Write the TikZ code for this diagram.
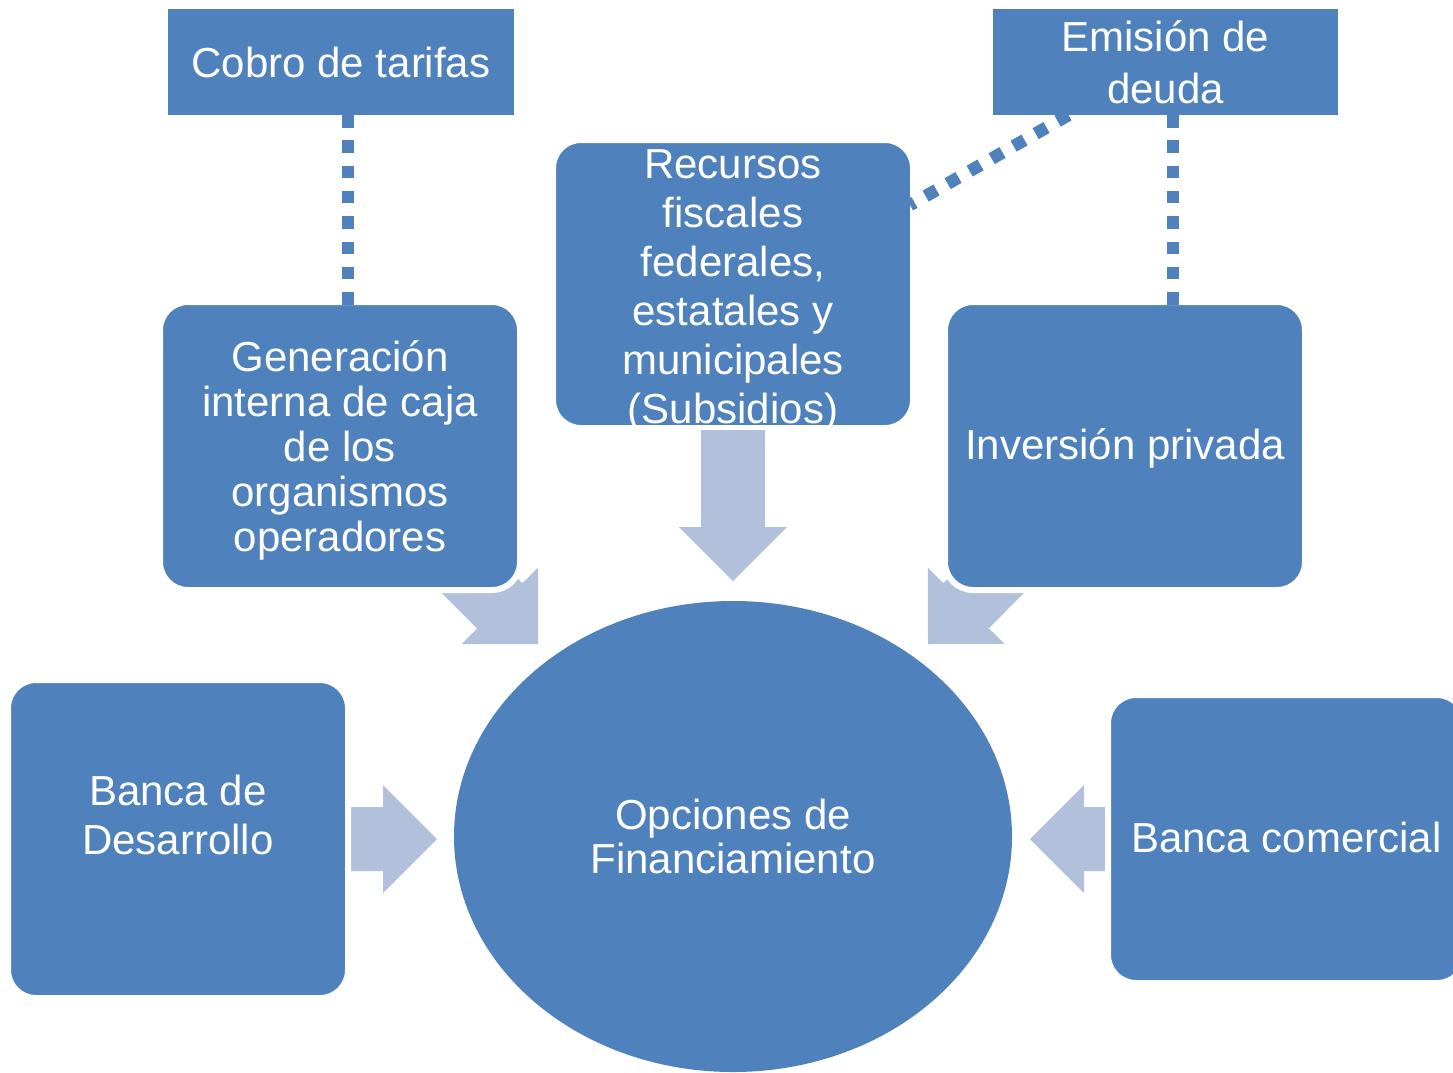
\documentclass[tikz,border=0pt]{standalone}
\usepackage{fontspec}
\setmainfont{Liberation Sans}
\usetikzlibrary{shapes.geometric,calc}
\definecolor{boxblue}{HTML}{4F81BD}
\definecolor{arrowblue}{RGB}{178,193,219}
\pgfdeclarelayer{bg}
\pgfsetlayers{bg,main}
\begin{document}
\begin{tikzpicture}[x=1pt,y=-1pt,
  txt/.style={text=white, font=\fontsize{42}{49}\selectfont, align=center},
  rbox/.style={txt, fill=boxblue, draw=white, line width=6pt, rounded corners=28pt, inner sep=0pt, outer sep=-3pt},
  sbox/.style={txt, fill=boxblue, inner sep=0pt, outer sep=0pt},
  dots/.style={draw=boxblue, line width=12.5pt, dash pattern=on 12.5pt off 12.8pt},
  blockarrow/.style={to path={let \p1=(\tikztostart), \p2=(\tikztotarget),
      \n1={atan2(\y2-\y1,\x2-\x1)}, \n2={veclen(\x2-\x1,\y2-\y1)} in
      ([shift={(\p1)},rotate=\n1]0,32) -- ([shift={(\p1)},rotate=\n1]{\n2-54},32)
      -- ([shift={(\p1)},rotate=\n1]{\n2-54},54) -- ([shift={(\p1)},rotate=\n1]\n2,0)
      -- ([shift={(\p1)},rotate=\n1]{\n2-54},-54) -- ([shift={(\p1)},rotate=\n1]{\n2-54},-32)
      -- ([shift={(\p1)},rotate=\n1]0,-32) -- cycle}},
  arrowfill/.style={fill=arrowblue, draw=none}
]
\useasboundingbox (0,0) rectangle (1453,1072);

% boxes
\node[sbox, minimum width=346, minimum height=106] (cobro) at (341,62) {Cobro de tarifas};
\node[sbox, minimum width=345, minimum height=106, font=\fontsize{42}{52}\selectfont] (emision) at (1165.5,62) {Emisión de\\deuda};
\node[rbox, minimum width=360, minimum height=288, inner ysep=-30pt] (recursos) at (733,284) {\rule{0pt}{42pt}Recursos\\fiscales\\federales,\\estatales y\\municipales\\(Subsidios)};
\node[rbox, minimum width=360, minimum height=288, font=\fontsize{42}{45}\selectfont] (gen) at (340,446) {\rule{0pt}{39pt}Generación\\interna de caja\\de los\\organismos\\operadores};
\node[rbox, minimum width=360, minimum height=288] (inv) at (1125,446) {\rule{0pt}{36pt}Inversión privada};
\node[rbox, minimum width=340, minimum height=318] (bdes) at (178,839) {Banca de\\Desarrollo\\\mbox{}};
\node[rbox, minimum width=357, minimum height=288] (bcom) at (1286.5,839) {\rule[-4pt]{0pt}{4pt}Banca comercial};
\node[txt, ellipse, fill=boxblue, inner sep=0pt, minimum width=558, minimum height=471, font=\fontsize{42}{44}\selectfont] (ell) at (733,836.5) {Opciones de\\Financiamiento};

% arrow tips
\coordinate (tipD) at (733,581);
\coordinate (tipL) at (538,644);
\coordinate (tipR) at (928,644);
\coordinate (tipBD) at (437,839);
\coordinate (tipBC) at (1030,839);

\begin{pgfonlayer}{bg}
\path[arrowfill] (gen.center) to[blockarrow] (tipL);
\path[arrowfill] (inv.center) to[blockarrow] (tipR);
\path[arrowfill] (bdes.center) to[blockarrow] (tipBD);
\path[arrowfill] (bcom.center) to[blockarrow] (tipBC);
\end{pgfonlayer}
\path[arrowfill] ([yshift=-5pt]recursos.south) to[blockarrow] (tipD);

% dotted links
\draw[dots] ([xshift=7pt]cobro.south) -- ([xshift=8pt]gen.north);
\draw[dots] ([xshift=7.5pt]emision.south) -- ([xshift=48pt]inv.north);
\draw[dots] ([xshift=-97pt]emision.south) -- ([yshift=79pt]recursos.east);
\end{tikzpicture}
\end{document}
